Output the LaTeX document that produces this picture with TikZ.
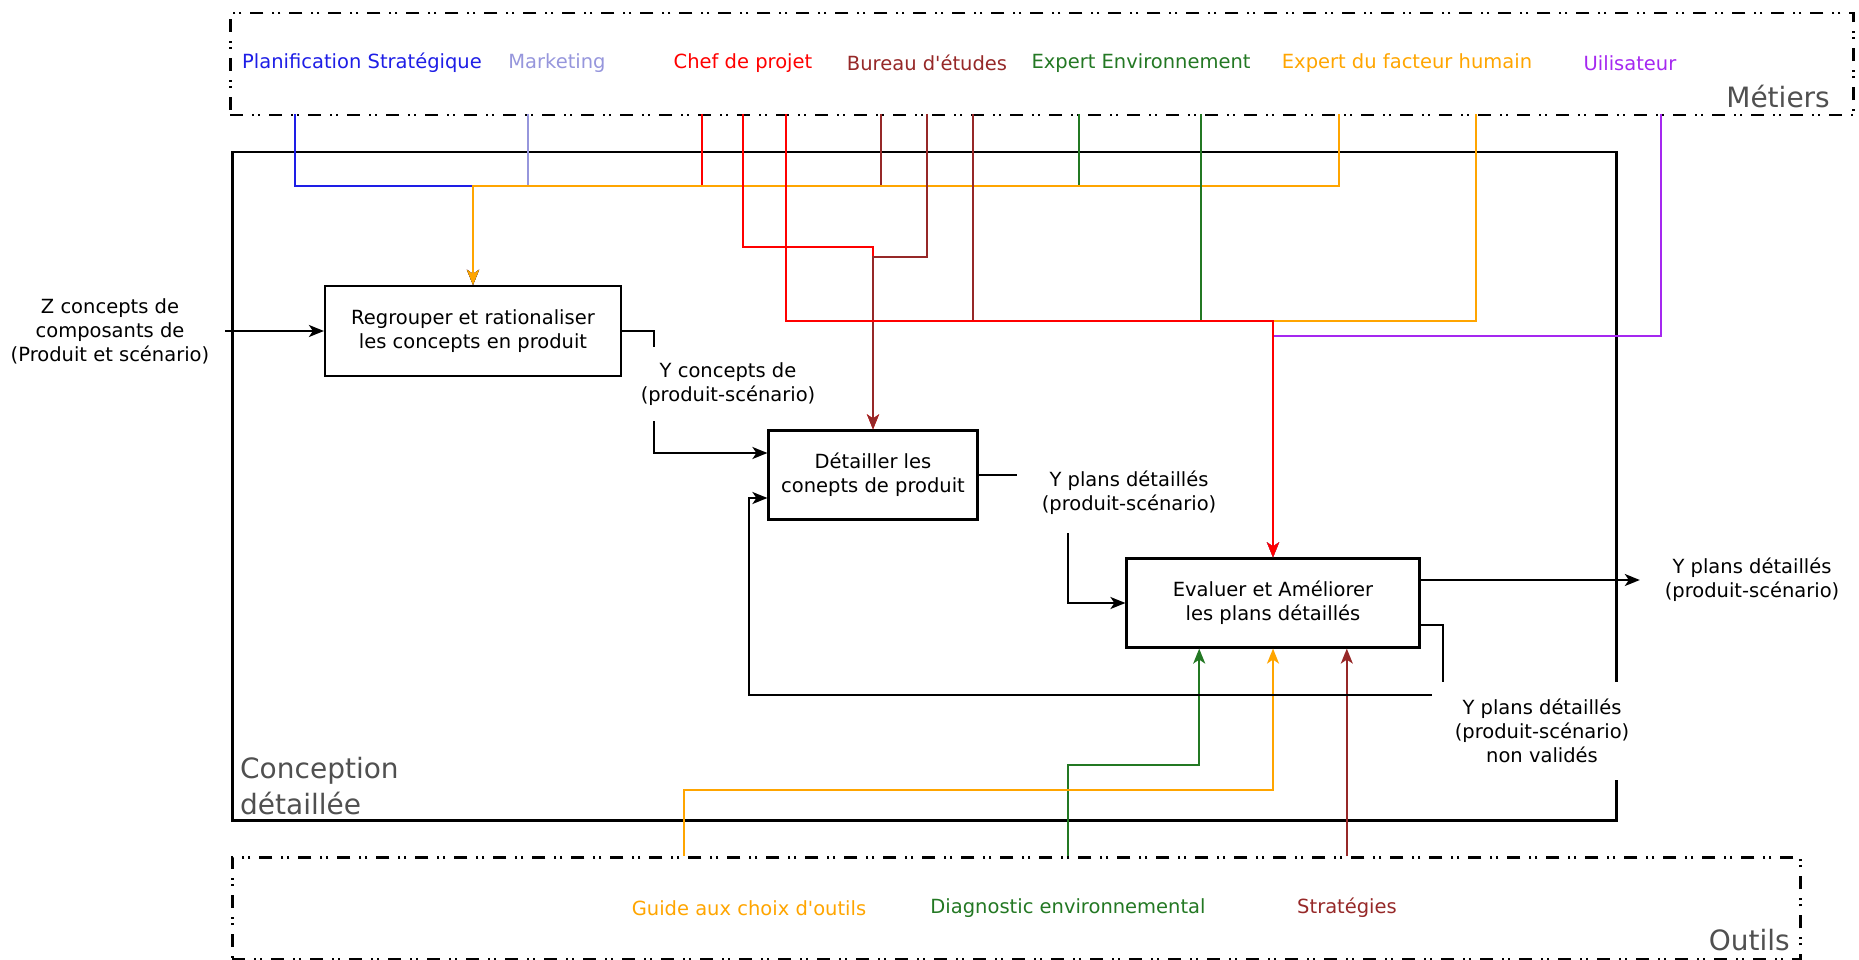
\documentclass[tikz,border=0pt]{standalone}
\usepackage{fontspec}
\setmainfont{DejaVu Sans}[Ligatures=TeXOff]
\usetikzlibrary{arrows.meta,calc}
\definecolor{cblue}{RGB}{30,30,230}
\definecolor{cmark}{RGB}{150,150,220}
\definecolor{cred}{RGB}{255,0,0}
\definecolor{cbrown}{RGB}{150,40,40}
\definecolor{cgreen}{RGB}{35,120,35}
\definecolor{corange}{RGB}{255,165,0}
\definecolor{cpurple}{RGB}{165,40,240}
\definecolor{ctitle}{RGB}{80,80,80}
\begin{document}
\begin{tikzpicture}[x=1pt,y=-1pt,
  txt/.style={font=\fontsize{19.5}{24}\selectfont, align=center, inner sep=0pt},
  proc/.style={draw=black, line width=2.2pt, fill=white, txt},
  lab/.style={txt, fill=white},
  conn/.style={line width=2pt},
  arr/.style={conn, -{Stealth[length=15pt,width=12pt,inset=4pt]}},
  frame/.style={draw=black, line width=2.5pt, dash pattern=on 13pt off 9pt on 2pt off 4pt on 2pt off 9pt, inner sep=0pt, anchor=north west},
  title/.style={font=\fontsize{28}{36}\selectfont, text=ctitle, inner sep=0pt, align=left}]
\useasboundingbox (0,0) rectangle (1859,960);

% containers
\node[frame, minimum width=1623pt, minimum height=102pt] (metiers) at (229,12) {};
\node[frame, minimum width=1568pt, minimum height=102pt] (outils) at (231,856) {};
\node[draw=black, line width=2.5pt, inner sep=0pt, anchor=north west, minimum width=1384pt, minimum height=668pt] (concep) at (231,151) {};

\node[title, anchor=east] (tmet) at (1830,97) {Métiers};
\node[title, anchor=east] (tout) at (1790,940) {Outils};
\node[title, anchor=west] (tcon) at (240,786) {Conception\\détaillée};

% Métiers labels
\node[txt, text=cblue] (lplan) at (362,63) {Planification Stratégique};
\node[txt, text=cmark] (lmark) at (557,63) {Marketing};
\node[txt, text=cred] (lchef) at (743,63) {Chef de projet};
\node[txt, text=cbrown] (lbur) at (927,63) {Bureau d'études};
\node[txt, text=cgreen] (lenv) at (1141,63) {Expert Environnement};
\node[txt, text=corange] (lfh) at (1407,63) {Expert du facteur humain};
\node[txt, text=cpurple] (luti) at (1630,63) {Uilisateur};

% Outils labels
\node[txt, text=corange] (lguide) at (749,908) {Guide aux choix d'outils};
\node[txt, text=cgreen] (ldiag) at (1068,908) {Diagnostic environnemental};
\node[txt, text=cbrown] (lstrat) at (1347,908) {Stratégies};

% process boxes
\node[proc, minimum width=296pt, minimum height=90pt] (A) at (473,331) {Regrouper et rationaliser\\les concepts en produit};
\node[proc, minimum width=209pt, minimum height=89pt] (B) at (873,475) {Détailler les\\conepts de produit};
\node[proc, minimum width=293pt, minimum height=89pt] (C) at (1273,603) {Evaluer et Améliorer\\les plans détaillés};

% helper coordinates
\coordinate (m1) at (295,114);
\coordinate (m2) at (528,114);
\coordinate (r1) at (702,114);
\coordinate (r2) at (743,114);
\coordinate (r3) at (786,114);
\coordinate (b1) at (881,114);
\coordinate (b2) at (927,114);
\coordinate (b3) at (973,114);
\coordinate (g1) at (1079,114);
\coordinate (g2) at (1201,114);
\coordinate (o1) at (1339,114);
\coordinate (o2) at (1476,114);
\coordinate (p1) at (1661,114);
\coordinate (h1) at (0,186);
\coordinate (h2) at (0,247);
\coordinate (h3) at (0,257);
\coordinate (h4) at (0,321);
\coordinate (h5) at (0,336);
\coordinate (h6) at (0,765);
\coordinate (h7) at (0,790);
\coordinate (h8) at (0,695);
\coordinate (k1) at (654,0);
\coordinate (k2) at (1068,0);
\coordinate (k3) at (1443,0);
\coordinate (k4) at (749,0);
\coordinate (cq1) at ($(C.south west)!0.25!(C.south east)$);
\coordinate (cq3) at ($(C.south west)!0.75!(C.south east)$);
\coordinate (og) at (1068,856);
\coordinate (oo) at (684,856);

% labels on flows
\node[lab, minimum width=230pt] (zlab) at (110,331) {Z concepts de\\composants de\\(Produit et scénario)};
\node[lab, minimum width=180pt, minimum height=74pt] (ylab1) at (728,384) {Y concepts de\\(produit-scénario)};
\node[lab, minimum width=224pt, minimum height=80pt] (ylab2) at (1129,493) {Y plans détaillés\\(produit-scénario)};
\node[lab, minimum width=224pt, minimum height=60pt] (yout) at (1752,580) {Y plans détaillés\\(produit-scénario)};
\node[lab, minimum width=220pt, minimum height=98pt] (ylab3) at (1542,731) {Y plans détaillés\\(produit-scénario)\\non validés};

% Métiers -> A
\draw[arr, cblue] (m1) |- (A.north |- h1) -- (A.north);
\draw[arr, cmark] (m2) |- (A.north |- h1) -- (A.north);
\draw[arr, cred] (r1) |- (A.north |- h1) -- (A.north);
\draw[arr, cbrown] (b1) |- (A.north |- h1) -- (A.north);
\draw[arr, cgreen] (g1) |- (A.north |- h1) -- (A.north);
\draw[arr, corange] (o1) |- (A.north |- h1) -- (A.north);

% Métiers -> B
\draw[arr, cred] (r2) |- (B.north |- h2) -- (B.north);
\draw[arr, cbrown] (b2) |- (B.north |- h3) -- (B.north);

% Métiers -> C
\draw[arr, cbrown] (b3) |- (C.north |- h4) -- (C.north);
\draw[arr, cgreen] (g2) |- (C.north |- h4) -- (C.north);
\draw[arr, corange] (o2) |- (C.north |- h4) -- (C.north);
\draw[arr, cpurple] (p1) |- (C.north |- h5) -- (C.north);
\draw[arr, cred] (r3) |- (C.north |- h4) -- (C.north);

% Outils -> C
\draw[arr, cgreen] (og) |- (cq1 |- h6) -- (cq1);
\draw[arr, corange] (oo) |- (C.south |- h7) -- (C.south);
\draw[arr, cbrown] (cq3 |- outils.north) -- (cq3);

% main flow
\draw[arr, black] (zlab.east) -- (A.west);
\draw[conn, black] (A.east) -| (k1 |- ylab1.north);
\draw[arr, black] (k1 |- ylab1.south) |- ([yshift=22pt]B.west);
\draw[conn, black] (B.east) -- (ylab2.west |- B.east);
\draw[arr, black] (k2 |- ylab2.south) |- (C.west);
\draw[arr, black] ([yshift=23pt]C.east) -- (yout.west);
\draw[conn, black] ([yshift=-22pt]C.east) -| (k3 |- ylab3.north);
\draw[arr, black] (ylab3.west |- h8) -- (k4 |- h8) |- ([yshift=-23pt]B.west);
\end{tikzpicture}
\end{document}
